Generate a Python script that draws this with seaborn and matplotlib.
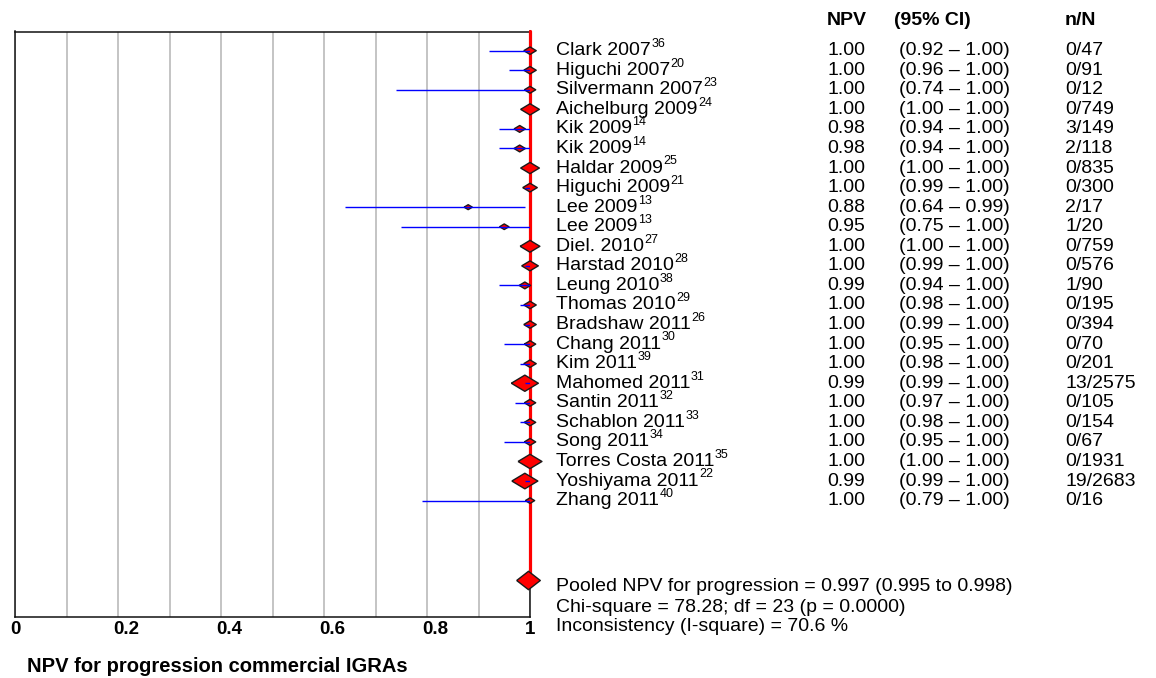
import matplotlib
matplotlib.use("Agg")
import matplotlib.pyplot as plt
import matplotlib.transforms as mtransforms
import numpy as np
import pandas as pd
import seaborn as sns


# data
studies = ["Clark 2007", "Higuchi 2007", "Silvermann 2007", "Aichelburg 2009", "Kik 2009", "Kik 2009",
           "Haldar 2009", "Higuchi 2009", "Lee 2009", "Lee 2009", "Diel. 2010", "Harstad 2010",
           "Leung 2010", "Thomas 2010", "Bradshaw 2011", "Chang 2011", "Kim 2011", "Mahomed 2011",
           "Santin 2011", "Schablon 2011", "Song 2011", "Torres Costa 2011", "Yoshiyama 2011", "Zhang 2011"]
refs = [36, 20, 23, 24, 14, 14, 25, 21, 13, 13, 27, 28, 38, 29, 26, 30, 39, 31, 32, 33, 34, 35, 22, 40]
npv = [1.00, 1.00, 1.00, 1.00, 0.98, 0.98, 1.00, 1.00, 0.88, 0.95, 1.00, 1.00,
       0.99, 1.00, 1.00, 1.00, 1.00, 0.99, 1.00, 1.00, 1.00, 1.00, 0.99, 1.00]
ci_low = [0.92, 0.96, 0.74, 1.00, 0.94, 0.94, 1.00, 0.99, 0.64, 0.75, 1.00, 0.99,
          0.94, 0.98, 0.99, 0.95, 0.98, 0.99, 0.97, 0.98, 0.95, 1.00, 0.99, 0.79]
ci_high = [1.00, 1.00, 1.00, 1.00, 1.00, 1.00, 1.00, 1.00, 0.99, 1.00, 1.00, 1.00,
           1.00, 1.00, 1.00, 1.00, 1.00, 1.00, 1.00, 1.00, 1.00, 1.00, 1.00, 1.00]
n_over_N = ["0/47", "0/91", "0/12", "0/749", "3/149", "2/118", "0/835", "0/300", "2/17", "1/20",
            "0/759", "0/576", "1/90", "0/195", "0/394", "0/70", "0/201", "13/2575", "0/105",
            "0/154", "0/67", "0/1931", "19/2683", "0/16"]
# relative study weight (marker size)
weights = [12, 12, 11, 18, 11, 11, 18, 14, 8, 9, 19, 16, 11, 12, 12, 11, 12, 26, 11, 11, 11, 23, 25, 9]

pooled_npv = 0.997
pooled_weight = 23
summary_lines = ["Pooled NPV for progression = 0.997 (0.995 to 0.998)",
                 "Chi-square = 78.28; df = 23 (p = 0.0000)",
                 "Inconsistency (I-square) = 70.6 %"]
x_ticks = [0, 0.2, 0.4, 0.6, 0.8, 1]
x_tick_labels = ["0", "0.2", "0.4", "0.6", "0.8", "1"]
x_label = "NPV for progression commercial IGRAs"

sns.set_style("white")
plt.rcParams["font.family"] = ["Liberation Sans", "DejaVu Sans"]
plt.rcParams["text.color"] = "black"
plt.rcParams["xtick.color"] = "black"
plt.rcParams["axes.labelcolor"] = "black"

fs = 14

fig = plt.figure(figsize=(11.56, 6.78), dpi=100)
ax = fig.add_axes([15 / 1156, 61 / 678, 515 / 1156, 585.5 / 678])

df = pd.DataFrame({"study": studies, "npv": npv, "lo": ci_low, "hi": ci_high,
                   "row": np.arange(len(studies)), "weight": weights})

# flat diamonds like the original
study_marker = [(-1, 0), (0, 0.6), (1, 0), (0, -0.6), (-1, 0)]
pooled_marker = [(-1, 0), (0, 0.78), (1, 0), (0, -0.78), (-1, 0)]

# red reference line at 1 down to the pooled estimate
pooled_row = 27.06
ax.plot([1, 1], [-0.98, pooled_row], color="#ff0000", lw=2.3, zorder=3, clip_on=False)

sns.scatterplot(data=df, x="npv", y="row", marker=study_marker, s=(df["weight"] * 0.75) ** 2,
                color="#ff0000", edgecolor="#1a1a1a", linewidth=1.0, zorder=4, clip_on=False,
                legend=False, ax=ax)
sns.scatterplot(x=[pooled_npv], y=[pooled_row], marker=pooled_marker, s=(pooled_weight * 0.74) ** 2,
                color="#ff0000", edgecolor="#1a1a1a", linewidth=1.0, zorder=4, clip_on=False,
                legend=False, ax=ax)

# confidence intervals
ax.hlines(df["row"], df["lo"], df["hi"], color="#0000ff", lw=1.0, zorder=5)

ax.set_xlim(0, 1)
ax.set_ylim(28.95, -0.98)
ax.set_xlabel("")
ax.set_ylabel("")
ax.set_yticks([])
ax.set_xticks(np.arange(0.1, 1.0, 0.1), minor=True)
ax.set_xticks(x_ticks, labels=x_tick_labels, fontsize=13.5, fontweight="bold")
ax.tick_params(which="both", length=0)
ax.tick_params(axis="x", pad=3, labelcolor="black")
ax.grid(axis="x", which="both", color="#c4c4c4", lw=1.4)
ax.set_axisbelow(True)
for s in ax.spines.values():
    s.set_color("#111111")
    s.set_linewidth(1.1)

# tick labels start at the tick, like the original
shift = mtransforms.ScaledTranslation(-0.05, 0, fig.dpi_scale_trans)
for lbl in ax.get_xticklabels():
    lbl.set_horizontalalignment("left")
    lbl.set_transform(lbl.get_transform() + shift)

# table columns
name_x, npv_x, ci_x, nn_x = 1.05, 1.577, 1.7165, 2.039
ax.text(npv_x, -1.52, "NPV", fontsize=fs, fontweight="bold", va="center", clip_on=False)
ax.text(1.707, -1.52, "(95% CI)", fontsize=fs, fontweight="bold", va="center", clip_on=False)
ax.text(nn_x, -1.52, "n/N", fontsize=fs, fontweight="bold", va="center", clip_on=False)

for i in range(len(studies)):
    t = ax.text(name_x, i, studies[i], fontsize=fs, va="center", clip_on=False)
    ax.annotate(str(refs[i]), xy=(1, 1), xycoords=t, xytext=(0.5, 3), textcoords="offset points",
                ha="left", va="top", fontsize=9)
    ax.text(npv_x, i, f"{npv[i]:.2f}", fontsize=fs, va="center", clip_on=False)
    ax.text(ci_x, i, f"({ci_low[i]:.2f} \u2013 {ci_high[i]:.2f})", fontsize=fs, va="center", clip_on=False)
    ax.text(nn_x, i, n_over_N[i], fontsize=fs, va="center", clip_on=False)

for line, yy in zip(summary_lines, [27.4, 28.45, 29.45]):
    ax.text(name_x, yy, line, fontsize=fs, va="center", clip_on=False)

fig.text(27 / 1156, 1 - 667 / 678, x_label, fontsize=14.5, fontweight="bold", va="center")

fig.savefig("out.png", dpi=100)
